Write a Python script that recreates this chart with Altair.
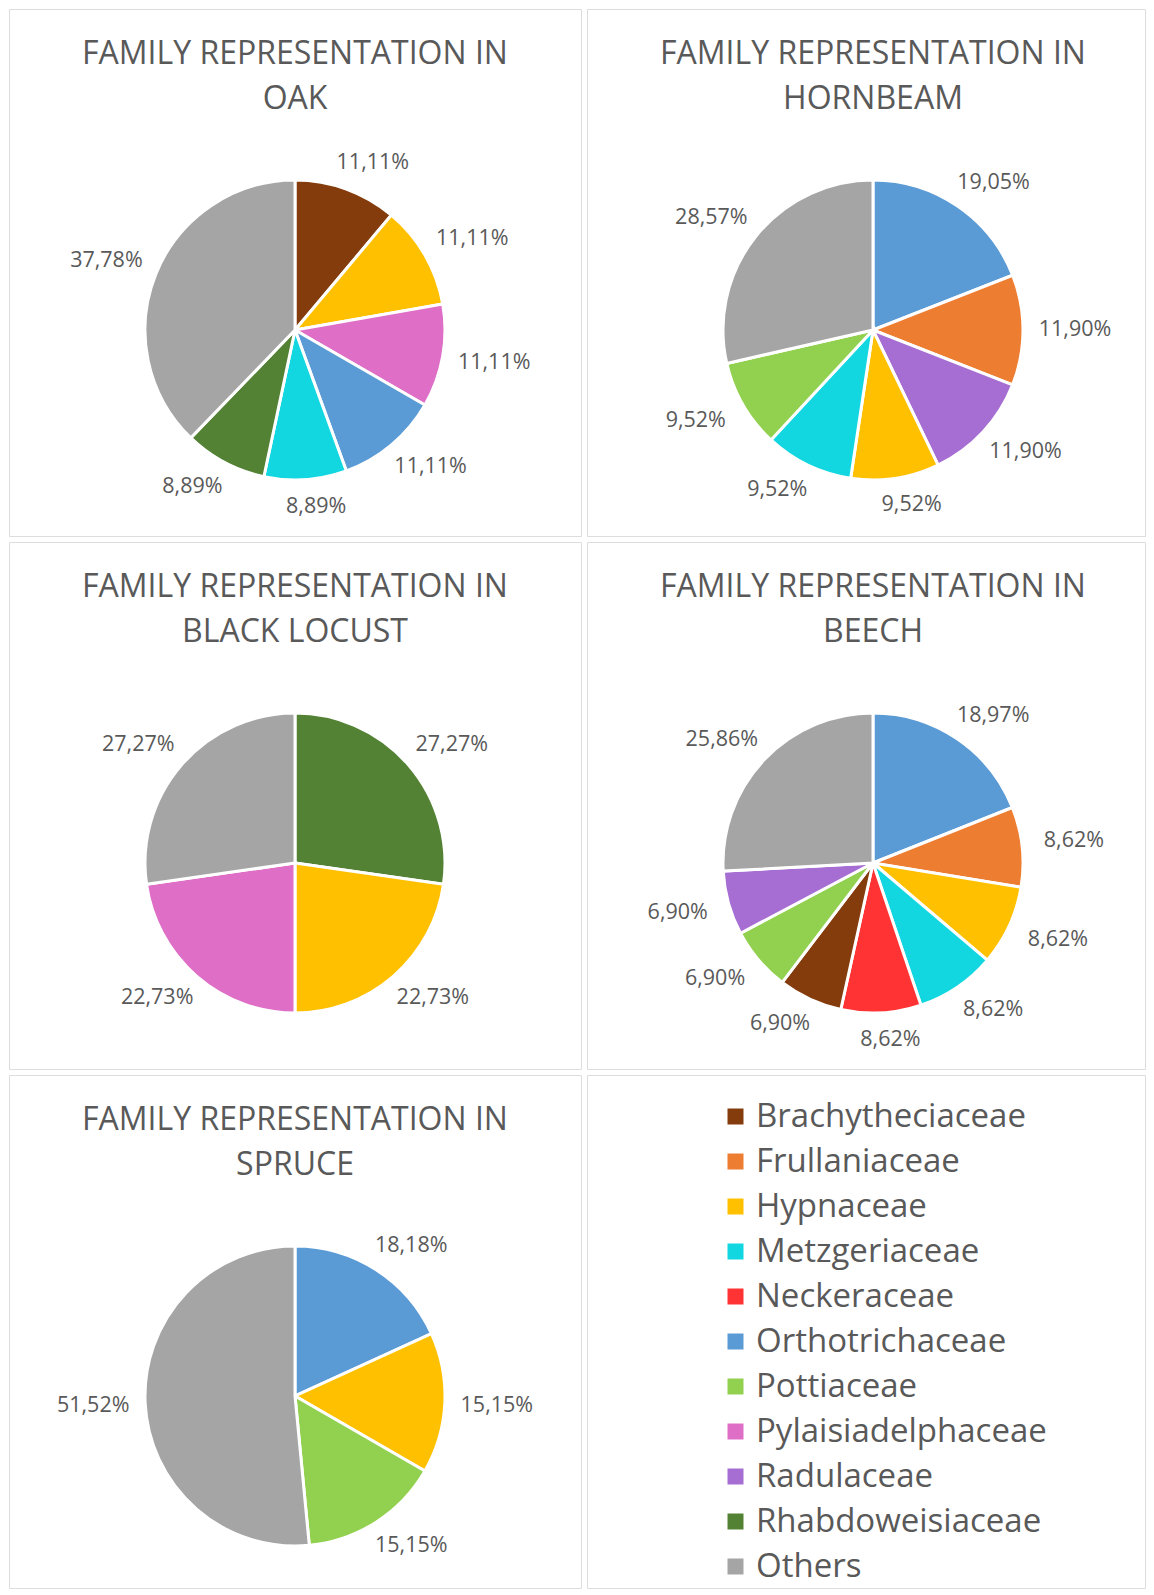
import math
import altair as alt
import pandas as pd

families = ["Brachytheciaceae", "Frullaniaceae", "Hypnaceae", "Metzgeriaceae", "Neckeraceae",
            "Orthotrichaceae", "Pottiaceae", "Pylaisiadelphaceae", "Radulaceae", "Rhabdoweisiaceae", "Others"]
colors = ["#843C0C", "#ED7D31", "#FFC000", "#12D6E0", "#FF3333",
          "#5B9BD5", "#92D050", "#DE6EC6", "#A66ED3", "#548235", "#A5A5A5"]

oak_fam = ["Brachytheciaceae", "Hypnaceae", "Pylaisiadelphaceae", "Orthotrichaceae", "Metzgeriaceae", "Rhabdoweisiaceae", "Others"]
oak_val = [11.11, 11.11, 11.11, 11.11, 8.89, 8.89, 37.78]

hornbeam_fam = ["Orthotrichaceae", "Frullaniaceae", "Radulaceae", "Hypnaceae", "Metzgeriaceae", "Pottiaceae", "Others"]
hornbeam_val = [19.05, 11.90, 11.90, 9.52, 9.52, 9.52, 28.57]

locust_fam = ["Rhabdoweisiaceae", "Hypnaceae", "Pylaisiadelphaceae", "Others"]
locust_val = [27.27, 22.73, 22.73, 27.27]

beech_fam = ["Orthotrichaceae", "Frullaniaceae", "Hypnaceae", "Metzgeriaceae", "Neckeraceae", "Brachytheciaceae", "Pottiaceae", "Radulaceae", "Others"]
beech_val = [18.97, 8.62, 8.62, 8.62, 8.62, 6.90, 6.90, 6.90, 25.86]

spruce_fam = ["Orthotrichaceae", "Hypnaceae", "Pottiaceae", "Others"]
spruce_val = [18.18, 15.15, 15.15, 51.52]

title_line1 = "FAMILY REPRESENTATION IN"
titles = ["OAK", "HORNBEAM", "BLACK LOCUST", "BEECH", "SPRUCE"]

FONT = "Open Sans"
TXT = "#595959"
R = 150
CX, CY = 286, 321
GAP, HW, HH = 16, 36, 11

color_scale = alt.Scale(domain=families, range=colors)
legend = alt.Legend(orient="none", legendX=710, legendY=1091, title=None, symbolType="square",
                    symbolSize=256, symbolStrokeWidth=0, labelFontSize=33, labelFont=FONT,
                    labelColor=TXT, labelOffset=4, rowPadding=11, padding=0, labelLimit=500)


def sgnpow(v, p=0.5):
    return math.copysign(abs(v) ** p, v)


def title_layer(text, ypos):
    return alt.Chart(pd.DataFrame({"t": [text]})).mark_text(
        font=FONT, fontSize=32, color=TXT, baseline="middle"
    ).encode(text="t:N", x=alt.value(CX), y=alt.value(ypos))


def pie(fams, vals, name, w, h):
    total = sum(vals)
    cum = 0.0
    rows = []
    for i, (f, v) in enumerate(zip(fams, vals)):
        mid = (cum + v / 2) / total * 2 * math.pi
        cum += v
        s, c = math.sin(mid), math.cos(mid)
        px = (R + GAP) * s + HW * sgnpow(s)
        py = -(R + GAP) * c - HH * sgnpow(c)
        rows.append({"family": f, "value": v, "ord": i,
                     "lt": math.atan2(px, -py) % (2 * math.pi), "lr": math.hypot(px, py),
                     "label": f"{v:.2f}".replace(".", ",") + "%"})
    df = pd.DataFrame(rows)
    arc = alt.Chart(df).mark_arc(outerRadius=R, stroke="white", strokeWidth=3).encode(
        theta=alt.Theta("value:Q", stack=True),
        order=alt.Order("ord:Q"),
        x=alt.value(CX), y=alt.value(CY),
        color=alt.Color("family:N", scale=color_scale, legend=legend),
    )
    txt = alt.Chart(df).mark_text(font=FONT, fontSize=21.5, color=TXT).encode(
        theta=alt.Theta("lt:Q", scale=None, stack=False),
        radius=alt.Radius("lr:Q", scale=None),
        x=alt.value(CX), y=alt.value(CY),
        text="label:N",
    )
    return alt.layer(arc, txt, title_layer(title_line1, 45), title_layer(name, 90)).properties(width=w, height=h)


W1, W2 = 572, 558
H1, H3 = 527, 513

empty = alt.Chart(pd.DataFrame({"a": [0]})).mark_text(text="").encode(
    x=alt.value(100), y=alt.value(100)
).properties(width=W2, height=H3)

row1 = alt.hconcat(pie(oak_fam, oak_val, titles[0], W1, H1), pie(hornbeam_fam, hornbeam_val, titles[1], W2, H1), spacing=4)
row2 = alt.hconcat(pie(locust_fam, locust_val, titles[2], W1, H1), pie(beech_fam, beech_val, titles[3], W2, H1), spacing=4)
row3 = alt.hconcat(pie(spruce_fam, spruce_val, titles[4], W1, H3), empty, spacing=4)

chart = alt.vconcat(row1, row2, row3, spacing=4).properties(padding=0).configure_view(
    stroke="#d9d9d9", strokeWidth=1.5
).configure(background="white")

chart.save("out.html", embed_options={"renderer": "svg", "actions": False})
